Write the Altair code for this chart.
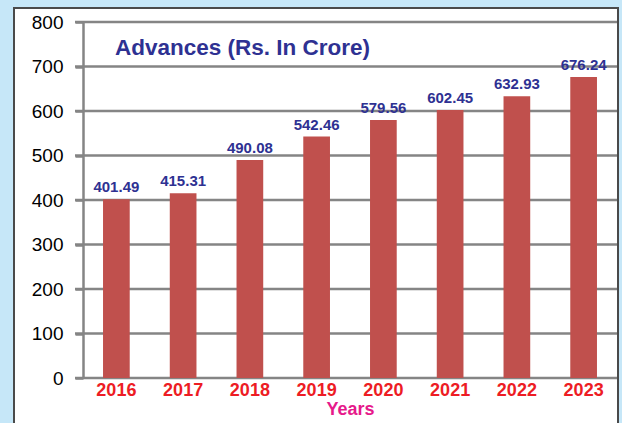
import altair as alt
import pandas as pd

years = ["2016", "2017", "2018", "2019", "2020", "2021", "2022", "2023"]
advances = [401.49, 415.31, 490.08, 542.46, 579.56, 602.45, 632.93, 676.24]
y_ticks = [0, 100, 200, 300, 400, 500, 600, 700, 800]
title_text = "Advances (Rs. In Crore)"
x_title = "Years"

df = pd.DataFrame({"year": years, "value": advances})
df["label"] = [f"{v:.2f}" for v in advances]
grid_df = pd.DataFrame({"t": y_ticks})

FONT = "Liberation Sans"
W, H = 534, 356

xscale = alt.Scale(domain=years, paddingInner=0.6, paddingOuter=0.3)
yscale = alt.Scale(domain=[0, 800], nice=False)

yaxis = alt.Axis(title=None, values=y_ticks, grid=False,
                 labelColor="black", labelFont=FONT, labelFontSize=19,
                 labelPadding=12, tickSize=8, tickColor="#858585",
                 tickWidth=2.5, domainColor="#858585", domainWidth=2.5,
                 zindex=1)

panel = alt.Chart(pd.DataFrame({"a": [0]})).mark_rect(
    fill="white", stroke="#4a4a4a", strokeWidth=2
).encode(
    x=alt.value(-69), x2=alt.value(535), y=alt.value(-14), y2=alt.value(H + 60)
)

grid = alt.Chart(grid_df).mark_rule(color="#858585", strokeWidth=2.5).encode(
    y=alt.Y("t:Q", scale=yscale, axis=yaxis, title=None),
    x=alt.value(-8), x2=alt.value(W),
)

bars = alt.Chart(df).mark_bar(color="#c0504d").encode(
    x=alt.X("year:N", scale=xscale, sort=years,
            axis=alt.Axis(title=x_title, labelAngle=0, labelColor="#ed1c24",
                          labelFont=FONT, labelFontSize=18, labelFontWeight="bold",
                          labelPadding=3, ticks=False, domain=False,
                          titleColor="#e6198b", titleFont=FONT, titleFontSize=18,
                          titleFontWeight="bold", titlePadding=1, zindex=1)),
    y=alt.Y("value:Q", scale=yscale, axis=yaxis, title=None),
)

labels = alt.Chart(df).mark_text(
    color="#2e3192", font=FONT, fontSize=15, fontWeight="bold",
    baseline="bottom", dy=-4
).encode(
    x=alt.X("year:N", scale=xscale, sort=years),
    y=alt.Y("value:Q", scale=yscale),
    text="label:N",
)

title = alt.Chart(pd.DataFrame({"t": [title_text]})).mark_text(
    color="#2e3192", font=FONT, fontSize=22.5, fontWeight="bold",
    align="left", baseline="middle"
).encode(x=alt.value(32), y=alt.value(26), text="t:N")

chart = alt.layer(panel, grid, bars, labels, title).properties(
    width=W, height=H,
    background="#c6e7f8",
    padding={"left": 83, "top": 22, "right": 5, "bottom": 45},
    autosize=alt.AutoSizeParams(type="none"),
).configure_view(stroke=None)

chart.save("out.html", embed_options={"renderer": "svg", "actions": False})
